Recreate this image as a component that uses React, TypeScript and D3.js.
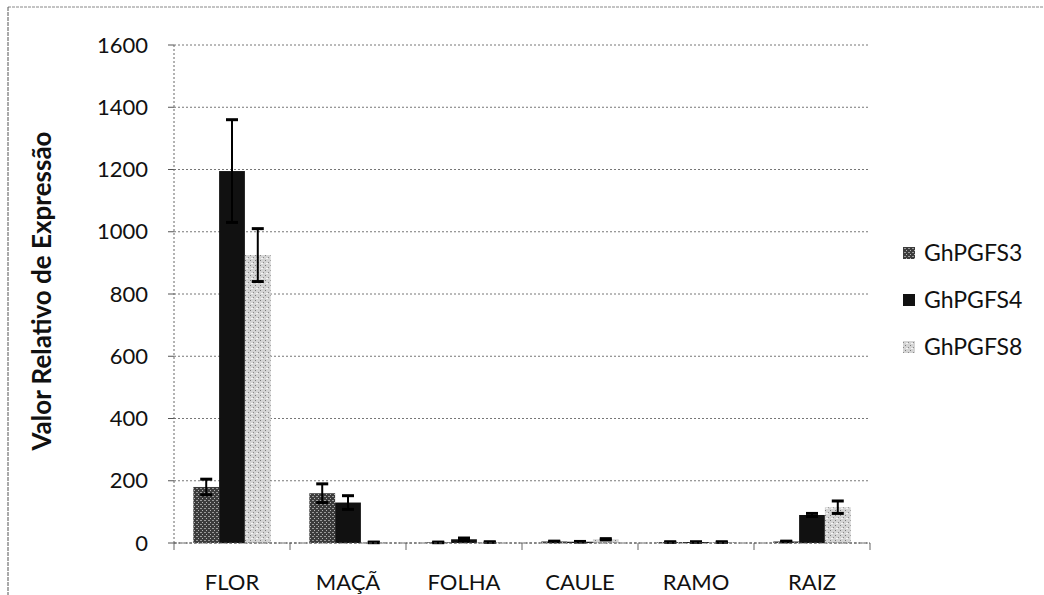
import * as d3 from 'd3';

const categories = ['FLOR', 'MAÇÃ', 'FOLHA', 'CAULE', 'RAMO', 'RAIZ'];
const seriesNames = ['GhPGFS3', 'GhPGFS4', 'GhPGFS8'];
const ghpgfs3 = [180, 160, 2, 5, 3, 5];
const ghpgfs4 = [1195, 130, 12, 4, 3, 90];
const ghpgfs8 = [925, 2, 3, 12, 3, 115];
const err3 = [25, 30, 1, 1, 1, 1];
const err4 = [165, 22, 4, 1, 1, 5];
const err8 = [85, 1, 1, 2, 1, 20];
const yTicks = [0, 200, 400, 600, 800, 1000, 1200, 1400, 1600];

const values = [ghpgfs3, ghpgfs4, ghpgfs8];
const errors = [err3, err4, err8];
const fills = ['url(#p3)', '#111', 'url(#p8)'];

const W = 1044;
const H = 595;
const left = 174;
const right = 870;
const top = 45;
const bottom = 543;
const FONT = 'Lato, "Open Sans", sans-serif';

const App = () => {
  const x = d3.scaleBand<string>().domain(categories).range([left, right]).paddingInner(0).paddingOuter(0);
  const x1 = d3
    .scaleBand<string>()
    .domain(seriesNames)
    .range([0, x.bandwidth()])
    .paddingInner(0)
    .paddingOuter(0.75);
  const y = d3.scaleLinear().domain([0, 1600]).range([bottom, top]);

  const legendY = [253, 300, 347];

  return (
    <svg width={W} height={H} style={{ position: 'absolute', left: 0, top: 0, background: '#fff' }}>
      <defs>
        <pattern id='p3' width='4' height='4' patternUnits='userSpaceOnUse'>
          <rect width='4' height='4' fill='#3c3c3c' />
          <rect x='0' y='0' width='2' height='1' fill='#9a9a9a' />
          <rect x='2' y='2' width='1' height='1' fill='#b5b5b5' />
        </pattern>
        <pattern id='p8' width='5' height='5' patternUnits='userSpaceOnUse'>
          <rect width='5' height='5' fill='#d4d4d4' />
          <rect x='0' y='0' width='1' height='1' fill='#7a7a7a' />
          <rect x='3' y='2' width='1' height='1' fill='#8a8a8a' />
          <rect x='1' y='3' width='2' height='1' fill='#f4f4f4' />
        </pattern>
      </defs>

      {/* frame */}
      <line x1={8} x2={W} y1={7} y2={7} stroke='#888' strokeDasharray='3,1' />
      <line x1={8} x2={8} y1={7} y2={H} stroke='#555' strokeDasharray='4,1' />

      {/* grid */}
      {yTicks.map((t) => (
        <g key={t}>
          <line x1={left} x2={right} y1={y(t)} y2={y(t)} stroke='#777' strokeDasharray='2,2' />
          <line x1={left - 6} x2={left} y1={y(t)} y2={y(t)} stroke='#555' />
          <text x={148} y={y(t)} dy='0.35em' textAnchor='end' fontFamily={FONT} fontSize={22} fill='#111'>
            {t}
          </text>
        </g>
      ))}
      <line x1={left} x2={left} y1={top} y2={bottom} stroke='#666' strokeDasharray='2,2' />

      {/* category ticks */}
      {d3.range(categories.length + 1).map((i) => {
        const xx = left + i * x.bandwidth();
        return <line key={i} x1={xx} x2={xx} y1={bottom} y2={bottom + 7} stroke='#666' />;
      })}

      {/* bars */}
      {seriesNames.map((s, si) =>
        categories.map((c, ci) => {
          const v = values[si][ci];
          const bx = (x(c) || 0) + (x1(s) || 0);
          return (
            <rect
              key={s + c}
              x={bx}
              y={y(v)}
              width={x1.bandwidth()}
              height={bottom - y(v)}
              fill={fills[si]}
            />
          );
        })
      )}

      {/* error bars */}
      {seriesNames.map((s, si) =>
        categories.map((c, ci) => {
          const v = values[si][ci];
          const e = errors[si][ci];
          const cx = (x(c) || 0) + (x1(s) || 0) + x1.bandwidth() / 2;
          const lo = Math.max(0, v - e);
          return (
            <g key={'e' + s + c} stroke='#000' strokeWidth={2}>
              <line x1={cx} x2={cx} y1={y(v + e)} y2={y(lo)} />
              <line x1={cx - 6} x2={cx + 6} y1={y(v + e)} y2={y(v + e)} strokeWidth={3} />
              <line x1={cx - 6} x2={cx + 6} y1={y(lo)} y2={y(lo)} strokeWidth={3} />
            </g>
          );
        })
      )}

      {/* baseline */}
      <line x1={left} x2={right} y1={bottom} y2={bottom} stroke='#555' strokeDasharray='3,2' />

      {/* category labels */}
      {categories.map((c) => (
        <text
          key={c}
          x={(x(c) || 0) + x.bandwidth() / 2}
          y={582}
          dy='0.35em'
          textAnchor='middle'
          fontFamily={FONT}
          fontSize={22}
          fill='#111'
        >
          {c}
        </text>
      ))}

      {/* y title */}
      <text
        transform={`translate(42,291) rotate(-90)`}
        textAnchor='middle'
        dy='0.35em'
        fontFamily={FONT}
        fontSize={26}
        fontWeight='bold'
        fill='#111'
      >
        Valor Relativo de Expressão
      </text>

      {/* legend */}
      {seriesNames.map((s, si) => (
        <g key={'l' + s}>
          <rect x={903} y={legendY[si] - 6} width={12} height={12} fill={fills[si]} />
          <text x={924} y={legendY[si]} dy='0.35em' fontFamily={FONT} fontSize={23} fill='#111'>
            {s}
          </text>
        </g>
      ))}
    </svg>
  );
};

export default App;
